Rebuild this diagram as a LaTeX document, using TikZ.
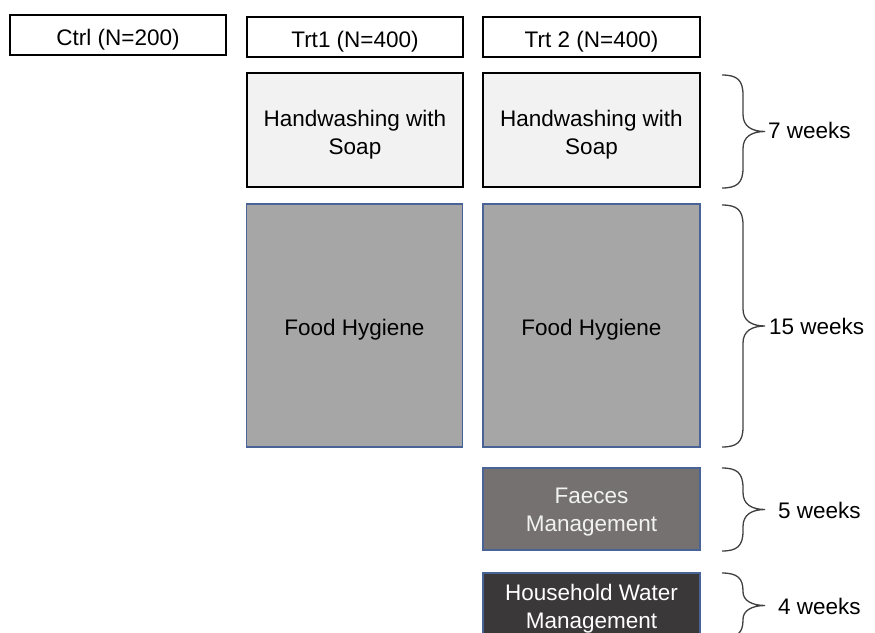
\documentclass[tikz,border=0pt]{standalone}
\usepackage{fontspec}
\setmainfont{Liberation Sans}
\definecolor{bordblue}{HTML}{4A6396}
\definecolor{hwfill}{HTML}{F2F2F2}
\definecolor{foodfill}{HTML}{A6A6A6}
\definecolor{faecfill}{HTML}{767171}
\definecolor{hhfill}{HTML}{3A3838}
\definecolor{lighttext}{HTML}{F2F2F2}
\newcommand\tstrut{\rule{0pt}{25pt}}
\newcommand\sstrut{\rule{0pt}{21.5pt}}
\newcommand\weekbrace[2]{%
  \pgfmathsetmacro\ym{(#1+#2)/2}%
  \pgfmathsetmacro\hh{(#2-#1)/2}%
  \pgfmathsetmacro\re{min(20,0.55*\hh)}%
  \pgfmathsetmacro\rt{min(17,0.42*\hh)}%
  \draw[bracestyle] (722,#1) .. controls (737,#1) and (743,#1+5) .. (743,#1+\re)
    -- (743,\ym-\rt) .. controls (743,\ym-5) and (752,\ym) .. (765,\ym)
    .. controls (752,\ym) and (743,\ym+5) .. (743,\ym+\rt)
    -- (743,#2-\re) .. controls (743,#2-5) and (737,#2) .. (722,#2);%
}
\begin{document}
\begin{tikzpicture}[x=1pt,y=-1pt,
  every node/.style={font=\fontsize{22.5}{28}\selectfont, align=center, inner sep=0pt},
  grpbox/.style={draw=black, line width=1.6pt, fill=white},
  hwbox/.style={draw=black, line width=1.6pt, fill=hwfill},
  foodbox/.style={draw=bordblue, line width=1.4pt, fill=foodfill},
  faecbox/.style={draw=bordblue, line width=1.4pt, fill=faecfill, text=lighttext},
  hhbox/.style={draw=bordblue, line width=1.4pt, fill=hhfill, text=white},
  bracestyle/.style={draw=black!75, line width=1.3pt},
  lbl/.style={anchor=west}]
\useasboundingbox (0,0) rectangle (875,632);
\begin{scope}
\clip (0,0) rectangle (875,632);
% group headers
\node[grpbox, minimum width=216, minimum height=40] (ctrl) at (118,35) {\tstrut Ctrl (N=200)};
\node[grpbox, minimum width=216, minimum height=40] (trt1) at (355,37) {\tstrut Trt1 (N=400)};
\node[grpbox, minimum width=217, minimum height=40] (trt2) at (591.5,37) {\tstrut Trt 2 (N=400)};
% handwashing
\node[hwbox, minimum width=216, minimum height=114] (hw1) at (355,130) {\tstrut Handwashing with\\Soap};
\node[hwbox, minimum width=217, minimum height=114] (hw2) at (591.5,130) {\tstrut Handwashing with\\Soap};
% food hygiene
\node[foodbox, minimum width=216, minimum height=243] (fh1) at (354.5,325.5) {\tstrut Food Hygiene};
\node[foodbox, minimum width=217, minimum height=243] (fh2) at (591.5,325.5) {\tstrut Food Hygiene};
% faeces
\node[faecbox, minimum width=217, minimum height=82] (fm) at (591.5,509) {\sstrut Faeces\\Management};
% household water
\node[hhbox, minimum width=217, minimum height=66] (hw) at (591.5,606) {\sstrut Household Water\\Management};
% braces
\weekbrace{75}{188}
\weekbrace{205}{447}
\weekbrace{468}{551}
\weekbrace{573}{638}
% labels
\node[lbl] (l7) at (768,130) {7 weeks};
\node[lbl] (l15) at (769,326) {15 weeks};
\node[lbl] (l5) at (778,510) {5 weeks};
\node[lbl] (l4) at (778,606) {4 weeks};
\end{scope}
\end{tikzpicture}
\end{document}
